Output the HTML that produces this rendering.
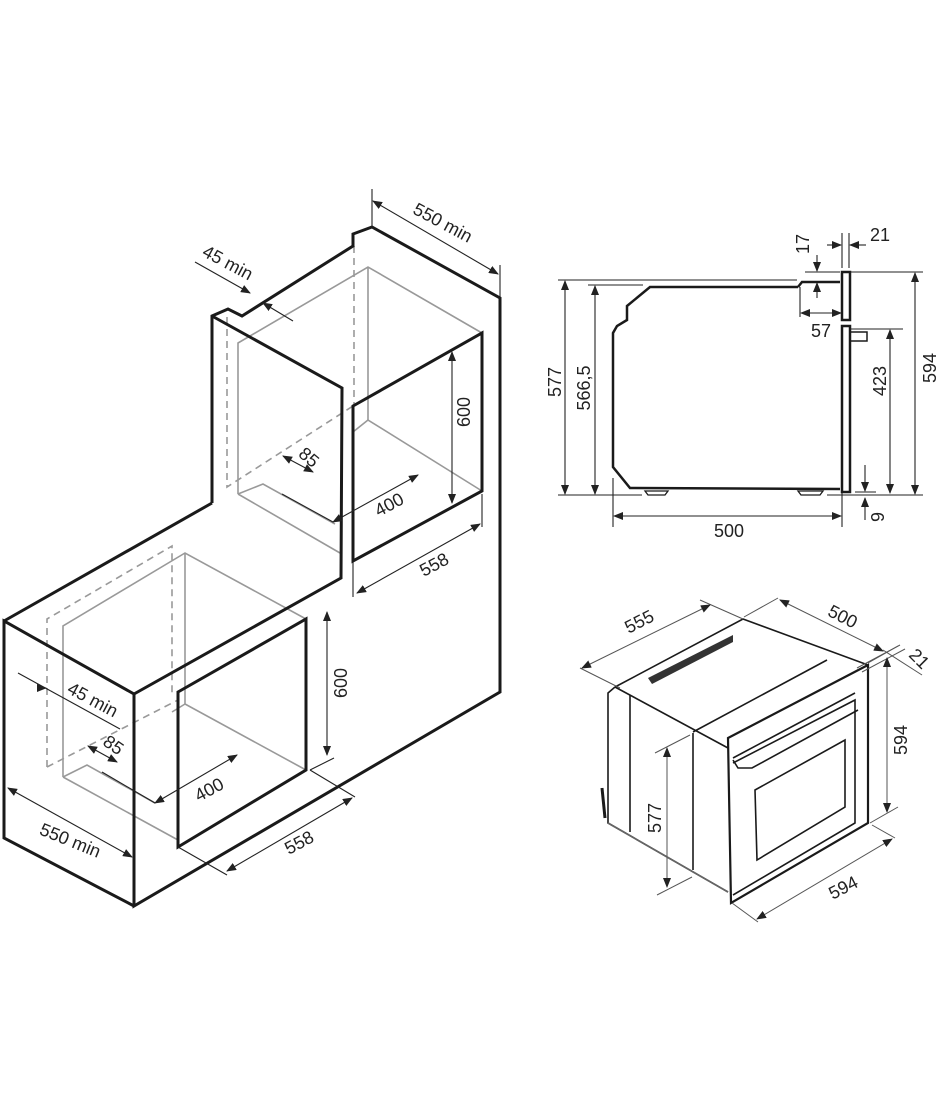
<!DOCTYPE html>
<html><head><meta charset="utf-8"><style>
html,body{margin:0;padding:0;background:#fff}
svg{display:block}
text{font-family:"Liberation Sans",sans-serif;font-size:18px;fill:#222}
</style></head><body>
<svg width="940" height="1117" viewBox="0 0 940 1117" xmlns="http://www.w3.org/2000/svg">
<defs>
<marker id="a" markerWidth="10" markerHeight="8" refX="9" refY="4" orient="auto-start-reverse" markerUnits="userSpaceOnUse"><path d="M0,0 L10,4 L0,8 z" fill="#222"/></marker>
</defs>
<!-- gray inner lines upper -->
<g stroke="#999" stroke-width="1.6" fill="none">
<polyline points="238,494 238,343 368,267 482,333"/>
<polyline points="368,267 368,420 482,491"/>
<line x1="238" y1="494" x2="340" y2="553"/>
<polyline points="238,494 263,484 335,524"/>
<line x1="353" y1="432" x2="368" y2="420"/>
</g>
<g stroke="#999" stroke-width="1.6" fill="none" stroke-dasharray="7,5">
<polyline points="227,317 227,487 353,406"/>
<line x1="354" y1="246" x2="354" y2="404"/>
</g>
<!-- gray inner lower -->
<g stroke="#999" stroke-width="1.6" fill="none">
<polyline points="63,777 63,626 185,553 306,619"/>
<polyline points="185,553 185,704 306,770"/>
<line x1="63" y1="777" x2="178" y2="840"/>
<polyline points="63,777 87,765 155,803"/>
<polyline points="172,712 185,704"/>
</g>
<g stroke="#999" stroke-width="1.6" fill="none" stroke-dasharray="7,5">
<polyline points="47,767 47,619 172,546 172,694"/>
<line x1="47" y1="767" x2="178" y2="700"/>
</g>
<!-- thick outlines -->
<g stroke="#1a1a1a" stroke-width="3" fill="none" stroke-linejoin="miter">
<polyline points="212,503 212,316 228,309 242,316 353,246 353,234 372,227 500,298 500,692 134,906 134,694 4,621 4,838 134,906"/>
<polyline points="212,316 342,388 341,578 134,694"/>
<line x1="212" y1="503" x2="4" y2="621"/>
<polygon points="353,406 482,333 482,491 353,561"/>
<polygon points="178,692 306,619 306,770 178,847"/>
</g>
<!-- dims upper/lower cabinets -->
<g stroke="#222" stroke-width="1.1" fill="none">
<line x1="372" y1="189" x2="372" y2="227"/><line x1="500" y1="265" x2="500" y2="298"/>
<line x1="373" y1="201" x2="498" y2="274" marker-start="url(#a)" marker-end="url(#a)"/>
<line x1="195" y1="262" x2="250" y2="293" marker-end="url(#a)"/>
<line x1="293" y1="321" x2="263" y2="303" marker-end="url(#a)"/>
<line x1="283" y1="456" x2="313" y2="472" marker-start="url(#a)" marker-end="url(#a)"/>
<line x1="282" y1="494" x2="333" y2="522"/>
<line x1="333" y1="522" x2="418" y2="475" marker-start="url(#a)" marker-end="url(#a)"/>
<line x1="452" y1="352" x2="452" y2="503" marker-start="url(#a)" marker-end="url(#a)"/>
<line x1="353" y1="562" x2="353" y2="597"/><line x1="482" y1="494" x2="482" y2="527"/>
<line x1="357" y1="593" x2="480" y2="524" marker-start="url(#a)" marker-end="url(#a)"/>
<line x1="18" y1="673" x2="120" y2="729"/><line x1="45" y1="688" x2="46" y2="688" marker-end="url(#a)"/>
<line x1="88" y1="746" x2="117" y2="762" marker-start="url(#a)" marker-end="url(#a)"/>
<line x1="102" y1="772" x2="155" y2="803"/>
<line x1="155" y1="803" x2="237" y2="755" marker-start="url(#a)" marker-end="url(#a)"/>
<line x1="327" y1="612" x2="327" y2="755" marker-start="url(#a)" marker-end="url(#a)"/>
<line x1="310" y1="770" x2="334" y2="758"/>
<line x1="310" y1="770" x2="355" y2="797"/><line x1="178" y1="847" x2="227" y2="875"/>
<line x1="227" y1="871" x2="352" y2="798" marker-start="url(#a)" marker-end="url(#a)"/>
<line x1="8" y1="788" x2="132" y2="857" marker-start="url(#a)" marker-end="url(#a)"/>
</g>
<text transform="translate(440,228) rotate(28)" text-anchor="middle">550 min</text>
<text transform="translate(225,268) rotate(28)" text-anchor="middle">45 min</text>
<text transform="translate(470,412) rotate(-90)" text-anchor="middle">600</text>
<text transform="translate(305,462) rotate(40)" text-anchor="middle">85</text>
<text transform="translate(392,510) rotate(-28)" text-anchor="middle">400</text>
<text transform="translate(437,570) rotate(-28)" text-anchor="middle">558</text>
<text transform="translate(347,683) rotate(-90)" text-anchor="middle">600</text>
<text transform="translate(90,705) rotate(28)" text-anchor="middle">45 min</text>
<text transform="translate(110,750) rotate(35)" text-anchor="middle">85</text>
<text transform="translate(212,795) rotate(-28)" text-anchor="middle">400</text>
<text transform="translate(302,848) rotate(-28)" text-anchor="middle">558</text>
<text transform="translate(68,846) rotate(22)" text-anchor="middle">550 min</text>

<!-- side view -->
<g stroke="#1a1a1a" stroke-width="2.5" fill="none">
<polyline points="798,287 650,287 627,306 627,320 617,326 613,333 613,467 630,488 840,489"/>
<polyline points="798,287 802,282 840,282"/>
<rect x="842" y="272" width="8" height="48"/>
<rect x="842" y="326" width="8" height="166"/>
<rect x="850" y="332" width="17" height="9" stroke-width="1.5"/>
<path d="M645,491 h23 l-3,4 h-17 z M798,491 h25 l-3,4 h-19 z" stroke-width="1.3"/>
</g>
<g stroke="#222" stroke-width="1.1" fill="none">
<line x1="558" y1="280" x2="797" y2="280"/><line x1="558" y1="495" x2="642" y2="495"/>
<line x1="588" y1="285" x2="643" y2="285"/>
<line x1="565" y1="281" x2="565" y2="494" marker-start="url(#a)" marker-end="url(#a)"/>
<line x1="595" y1="286" x2="595" y2="494" marker-start="url(#a)" marker-end="url(#a)"/>
<line x1="613" y1="478" x2="613" y2="527"/><line x1="842" y1="493" x2="842" y2="527"/>
<line x1="614" y1="516" x2="841" y2="516" marker-start="url(#a)" marker-end="url(#a)"/>
<line x1="817" y1="255" x2="817" y2="271" marker-end="url(#a)"/>
<line x1="817" y1="298" x2="817" y2="283" marker-end="url(#a)"/>
<line x1="805" y1="272" x2="840" y2="272"/>
<line x1="842" y1="233" x2="842" y2="268"/><line x1="849" y1="233" x2="849" y2="268"/>
<line x1="827" y1="245" x2="841" y2="245" marker-end="url(#a)"/>
<line x1="866" y1="245" x2="850" y2="245" marker-end="url(#a)"/>
<line x1="800" y1="287" x2="800" y2="317"/>
<line x1="801" y1="313" x2="841" y2="313" marker-start="url(#a)" marker-end="url(#a)"/>
<line x1="850" y1="329" x2="903" y2="329"/>
<line x1="890" y1="330" x2="890" y2="493" marker-start="url(#a)" marker-end="url(#a)"/>
<line x1="850" y1="272" x2="923" y2="272"/><line x1="827" y1="495" x2="923" y2="495"/>
<line x1="915" y1="273" x2="915" y2="494" marker-start="url(#a)" marker-end="url(#a)"/>
<line x1="865" y1="465" x2="865" y2="491" marker-end="url(#a)"/>
<line x1="865" y1="520" x2="865" y2="498" marker-end="url(#a)"/>
<line x1="855" y1="492" x2="876" y2="492"/>
</g>
<text x="729" y="537" text-anchor="middle">500</text>
<text transform="translate(809,244) rotate(-90)" text-anchor="middle">17</text>
<text x="880" y="241" text-anchor="middle">21</text>
<text x="821" y="337" text-anchor="middle">57</text>
<text transform="translate(886,381) rotate(-90)" text-anchor="middle">423</text>
<text transform="translate(936,368) rotate(-90)" text-anchor="middle">594</text>
<text transform="translate(884,517) rotate(-90)" text-anchor="middle">9</text>
<text transform="translate(561,382) rotate(-90)" text-anchor="middle">577</text>
<text transform="translate(590,388) rotate(-90)" text-anchor="middle">566,5</text>

<!-- oven iso -->
<g stroke="#1a1a1a" stroke-width="1.6" fill="none">
<polyline points="615,687 743,619 868,665"/>
<polyline points="615,687 608,693 608,823 728,892"/>
<line x1="615" y1="687" x2="728" y2="748"/>
<line x1="630" y1="695" x2="630" y2="832"/>
<line x1="693" y1="733" x2="693" y2="870"/>
<line x1="693" y1="732" x2="827" y2="660"/>
<polygon points="728,738 868,665 868,823 731,903" stroke-width="2.2"/>
<polyline points="733,763 855,700 855,823 733,895"/>
<polyline points="733,760 738,768 752,768 858,710"/>
<polyline points="733,758 855,693"/>
<polygon points="755,790 845,740 845,807 757,860"/>
<line x1="602" y1="788" x2="605" y2="818" stroke-width="3"/>
<line x1="608" y1="823" x2="728" y2="892" stroke="#666"/>
</g>
<polygon points="648,678 733,635 733,642 652,684" fill="#333"/>
<g stroke="#555" stroke-width="1" fill="none">
<line x1="580" y1="668" x2="620" y2="688"/><line x1="700" y1="600" x2="743" y2="619"/>
<line x1="582" y1="668" x2="710" y2="605" marker-start="url(#a)" marker-end="url(#a)"/>
<line x1="744" y1="617" x2="778" y2="598"/>
<line x1="780" y1="600" x2="883" y2="651" marker-start="url(#a)" marker-end="url(#a)"/>
<line x1="857" y1="668" x2="900" y2="645"/><line x1="862" y1="672" x2="905" y2="649"/>
<line x1="883" y1="650" x2="922" y2="675"/>
<line x1="868" y1="663" x2="898" y2="646"/><line x1="870" y1="823" x2="898" y2="807"/>
<line x1="887" y1="658" x2="887" y2="812" marker-start="url(#a)" marker-end="url(#a)"/>
<line x1="732" y1="903" x2="758" y2="922"/><line x1="872" y1="825" x2="895" y2="838"/>
<line x1="757" y1="919" x2="892" y2="839" marker-start="url(#a)" marker-end="url(#a)"/>
<line x1="655" y1="753" x2="690" y2="735"/><line x1="657" y1="895" x2="692" y2="877"/>
<line x1="667" y1="748" x2="667" y2="887" marker-start="url(#a)" marker-end="url(#a)"/>
</g>
<text transform="translate(642,627) rotate(-27)" text-anchor="middle">555</text>
<text transform="translate(840,622) rotate(27)" text-anchor="middle">500</text>
<text transform="translate(915,663) rotate(45)" text-anchor="middle">21</text>
<text transform="translate(907,740) rotate(-90)" text-anchor="middle">594</text>
<text transform="translate(846,893) rotate(-27)" text-anchor="middle">594</text>
<text transform="translate(661,818) rotate(-90)" text-anchor="middle">577</text>
</svg>
</body></html>
